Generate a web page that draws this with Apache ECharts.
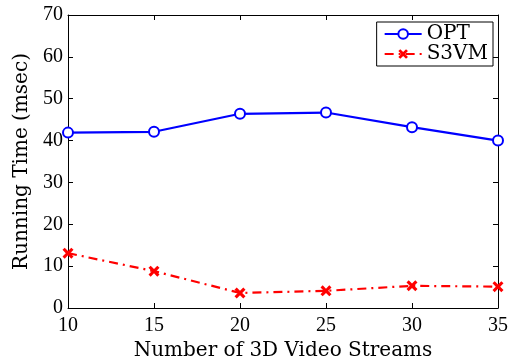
<!DOCTYPE html>
<html><head><meta charset="utf-8">
<script src="https://cdn.jsdelivr.net/npm/echarts@6/dist/echarts.min.js"></script>
<style>html,body{margin:0;padding:0;background:#fff}#c{width:515px;height:358px}</style>
</head><body><div id="c"></div>
<script>
const streams = [10, 15, 20, 25, 30, 35];
const optValues = [41.9, 42.1, 46.4, 46.7, 43.2, 40.0];
const s3vmValues = [13.1, 8.8, 3.6, 4.1, 5.3, 5.1];
const xTicks = [10, 15, 20, 25, 30, 35];
const yTicks = [0, 10, 20, 30, 40, 50, 60, 70];

const tickFont = 'Liberation Serif';
const nameFont = 'DejaVu Serif';
const cross = 'path://M2,0 L5,3 L8,0 L10,2 L7,5 L10,8 L8,10 L5,7 L2,10 L0,8 L3,5 L0,2 Z';
const chart = echarts.init(document.getElementById('c'), null, {renderer: 'canvas'});
const axisCommon = {
  axisLine: {show: true, onZero: false, lineStyle: {color: '#000', width: 1}},
  axisTick: {show: true, inside: true, length: 5, lineStyle: {color: '#000'}},
  splitLine: {show: false}
};
chart.setOption({
  animation: false,
  backgroundColor: '#fff',
  grid: {left: 68, right: 17, top: 15, bottom: 50, containLabel: false, outerBoundsMode: 'none'},
  legend: {
    right: 22, top: 22, orient: 'vertical', itemGap: 0, itemWidth: 37, itemHeight: 12,
    padding: [2, 5, 2, 7], borderColor: '#000', borderWidth: 1, backgroundColor: '#fff',
    textStyle: {fontFamily: nameFont, fontSize: 20, lineHeight: 18, color: '#000'},
    data: ['OPT', 'S3VM']
  },
  xAxis: [
    Object.assign({type: 'value', min: 10, max: 35, interval: 5, position: 'bottom',
      name: 'Number of 3D Video Streams', nameLocation: 'middle', nameGap: 29,
      nameTextStyle: {fontFamily: nameFont, fontSize: 20, color: '#000'},
      axisLabel: {fontFamily: tickFont, fontSize: 20, color: '#000', margin: 8,
        formatter: v => xTicks.includes(v) ? String(v) : ''}}, axisCommon),
    Object.assign({type: 'value', min: 10, max: 35, interval: 5, position: 'top',
      axisLabel: {show: false}}, axisCommon)
  ],
  yAxis: [
    Object.assign({type: 'value', min: 0, max: 70, interval: 10, position: 'left',
      name: 'Running Time (msec)', nameLocation: 'middle', nameGap: 35,
      nameTextStyle: {fontFamily: nameFont, fontSize: 20, color: '#000'},
      axisLabel: {fontFamily: tickFont, fontSize: 20, color: '#000', margin: 5,
        formatter: v => yTicks.includes(v) ? String(v) : ''}}, axisCommon),
    Object.assign({type: 'value', min: 0, max: 70, interval: 10, position: 'right',
      axisLabel: {show: false}}, axisCommon)
  ],
  series: [
    {name: 'OPT', type: 'line', data: streams.map((x, i) => [x, optValues[i]]),
      color: '#0000ff', symbol: 'emptyCircle', symbolSize: 10,
      lineStyle: {color: '#0000ff', width: 2.2},
      itemStyle: {color: '#0000ff', borderColor: '#0000ff', borderWidth: 2}},
    {name: 'S3VM', type: 'line', data: streams.map((x, i) => [x, s3vmValues[i]]),
      color: '#ff0000', symbol: cross, symbolSize: 11,
      lineStyle: {color: '#ff0000', width: 2.2, type: [9, 5, 2, 5]},
      itemStyle: {color: '#ff0000', borderWidth: 0}}
  ]
});
</script></body></html>
